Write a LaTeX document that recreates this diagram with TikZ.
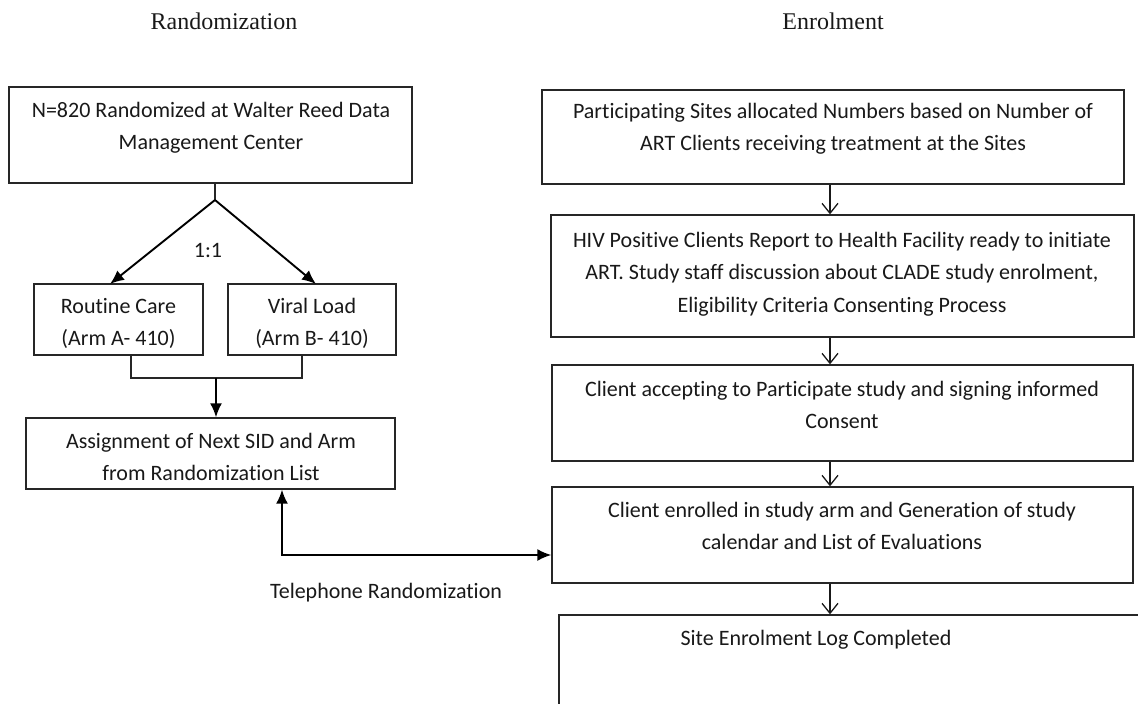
\documentclass[tikz,border=0pt]{standalone}
\usepackage{fontspec}
\setmainfont{Carlito}[Ligatures=NoCommon]
\newfontfamily\titlefont{Liberation Serif}
\usetikzlibrary{arrows.meta,fit}
\begin{document}
\begin{tikzpicture}[x=1pt,y=-1pt,
  box/.style={draw=black!85, line width=1.3pt, inner sep=0pt, rectangle},
  txt/.style={font=\fontsize{22}{32.5}\selectfont, align=center, anchor=base, inner sep=0pt, text=black!90},
  ttl/.style={font=\titlefont\fontsize{24}{28}\selectfont, anchor=base, inner sep=0pt, text=black!90},
  conn/.style={draw=black!85, line width=1.3pt},
  farrow/.style={draw=black, line width=1.9pt, -{Latex[length=14pt,width=12pt]}},
  darrow/.style={draw=black, line width=1.9pt, {Latex[length=14pt,width=12pt]}-{Latex[length=14pt,width=12pt]}},
  varrow/.style={draw=black!90, line width=1.3pt, -{Straight Barb[length=10pt,width=16pt]}},
]
\clip (0,0) rectangle (1138,704);
\fill[white] (0,0) rectangle (1138,704);

% titles
\node[ttl] (ttlA) at (224,29) {Randomization};
\node[ttl] (ttlB) at (833,29) {Enrolment};

% left column (text anchors: baseline of the last line)
\node[box, fit={(9,87) (412,183)}] (n820) {};
\node[txt] (n820t) at (211,149.5) {N=820 Randomized at Walter Reed Data\\Management Center};

\node[box, fit={(34,284) (203,355)}] (armA) {};
\node[txt] (armAt) at (118.5,345.5) {Routine Care\\(Arm A- 410)};
\node[box, fit={(228,284) (396,355)}] (armB) {};
\node[txt] (armBt) at (312,345.5) {Viral Load\\(Arm B- 410)};
\node[txt] (ratio) at (208,257) {1:1};

\coordinate (split) at (215,200);
\coordinate (tipA) at (110,284);
\coordinate (tipB) at (316,284);
\draw[conn] (n820.south -| split) -- (split);
\draw[farrow] (split) -- (tipA);
\draw[farrow] (split) -- (tipB);

\node[box, fit={(26,418) (395,489)}] (assign) {};
\node[txt] (assignt) at (211,480.5) {Assignment of Next SID and Arm\\from Randomization List};

\coordinate (aS) at (131,0);
\coordinate (bS) at (302,0);
\coordinate (join) at (216,378);
\draw[conn] (armA.south -| aS) |- (join) -| (armB.south -| bS);
\draw[farrow] (join) -- (join |- assign.north);

% right column
\node[box, fit={(542,90) (1124,184)}] (part) {};
\node[txt] (partt) at (833,150.5) {Participating Sites allocated Numbers based on Number of\\ART Clients receiving treatment at the Sites};

\node[box, fit={(551,215) (1134,337)}] (hiv) {};
\node[txt] (hivt) at (842,312) {HIV Positive Clients Report to Health Facility ready to initiate\\ART. Study staff discussion about CLADE study enrolment,\\Eligibility Criteria Consenting Process};

\node[box, fit={(552,365) (1133,461)}] (acc) {};
\node[txt] (acct) at (842,428.5) {Client accepting to Participate study and signing informed\\Consent};

\node[box, fit={(552,487) (1133,583)}] (enr) {};
\node[txt] (enrt) at (842,549.5) {Client enrolled in study arm and Generation of study\\calendar and List of Evaluations};

\node[box, fit={(559,615) (1170,740)}] (slog) {};
\node[txt] (slogt) at (816,645) {Site Enrolment Log Completed};

\coordinate (ax) at (830,0);
\draw[varrow] (part.south -| ax) -- (hiv.north -| ax);
\draw[varrow] (hiv.south -| ax) -- (acc.north -| ax);
\draw[varrow] (acc.south -| ax) -- (enr.north -| ax);
\draw[varrow] (enr.south -| ax) -- (slog.north -| ax);

% telephone randomization
\coordinate (tel) at (282,555);
\draw[darrow] (assign.south -| tel) |- (enr.west |- tel);
\node[txt] (telt) at (386,598) {Telephone Randomization};
\end{tikzpicture}
\end{document}
